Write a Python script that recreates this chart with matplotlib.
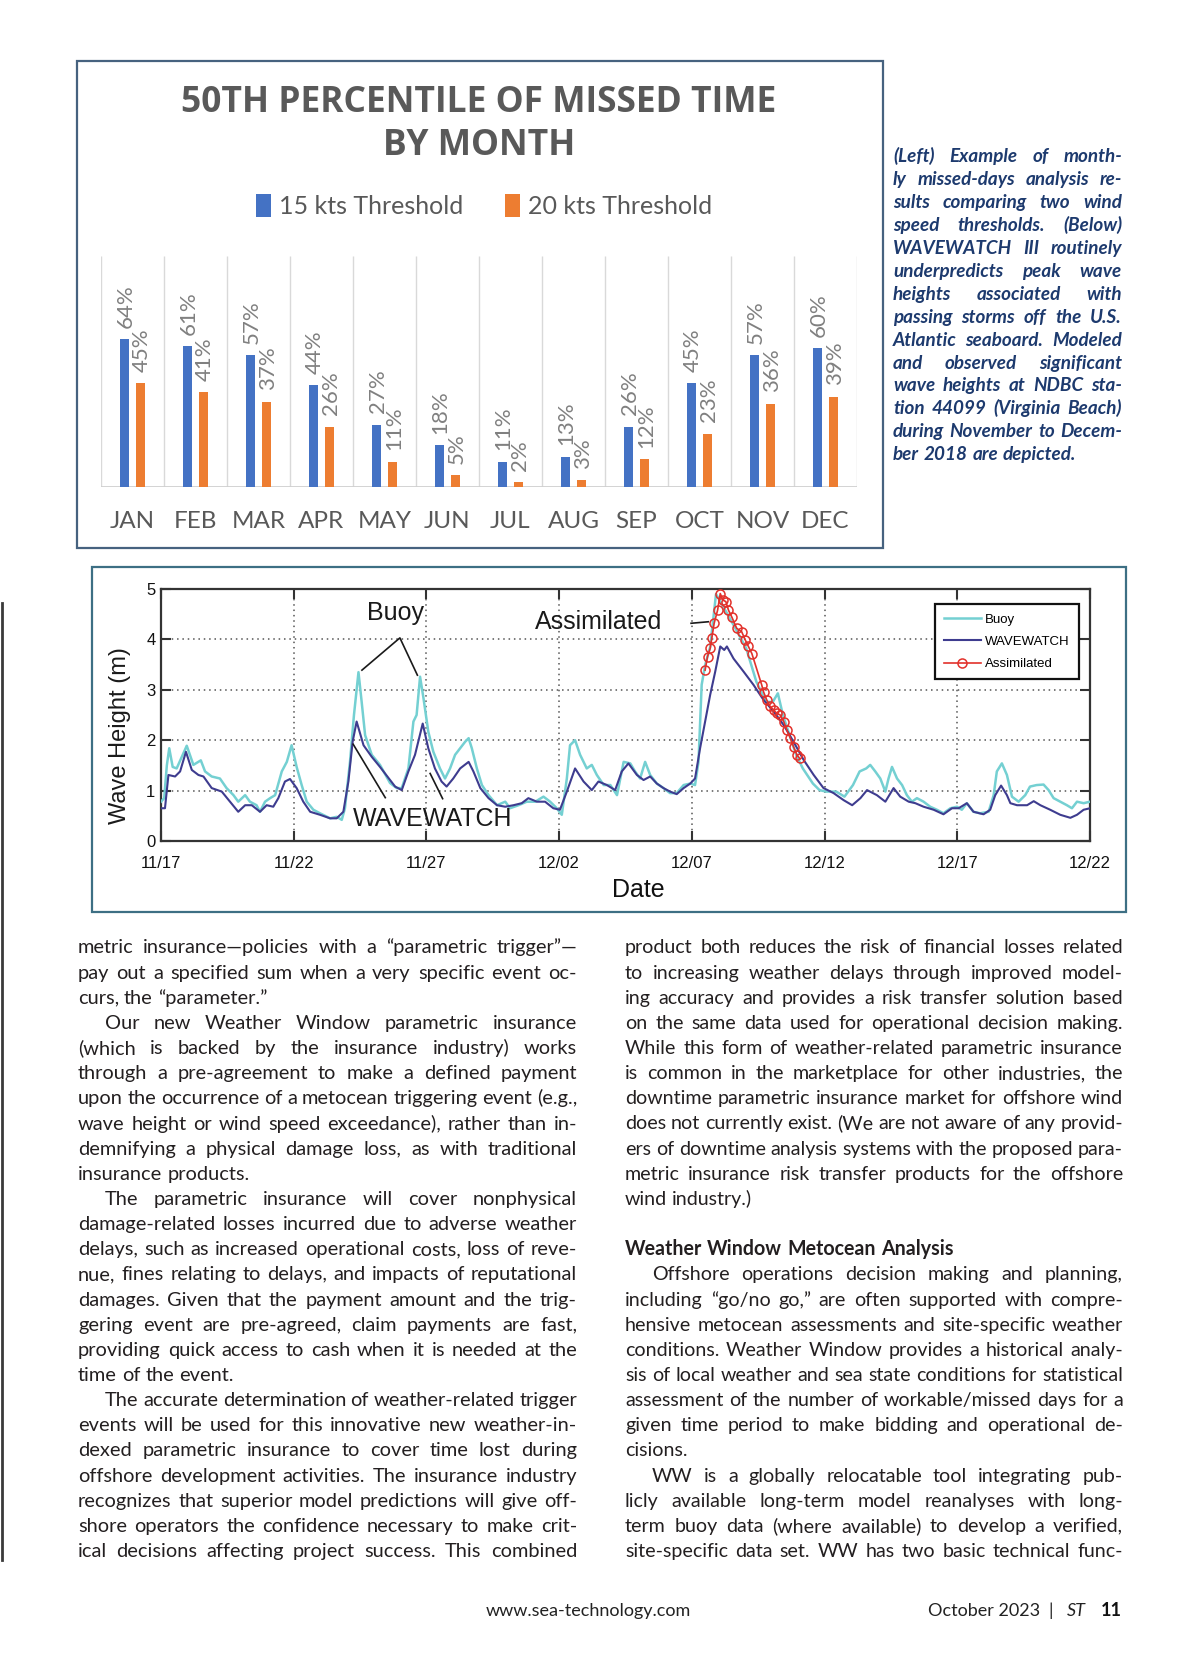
import numpy as np
import matplotlib
matplotlib.use("Agg")
import matplotlib.pyplot as plt
from matplotlib.patches import Rectangle
from matplotlib.lines import Line2D

W, H = 1200, 1672

# --- bar chart: 50th percentile of missed time ---
months = ["JAN", "FEB", "MAR", "APR", "MAY", "JUN", "JUL", "AUG", "SEP", "OCT", "NOV", "DEC"]
kts15 = [64, 61, 57, 44, 27, 18, 11, 13, 26, 45, 57, 60]
kts20 = [45, 41, 37, 26, 11, 5, 2, 3, 12, 23, 36, 39]

# --- wave height chart (days after 11/17) ---
date_ticks = ["11/17", "11/22", "11/27", "12/02", "12/07", "12/12", "12/17", "12/22"]
buoy_day = [0.0, 0.12, 0.22, 0.31, 0.44, 0.59, 0.97, 1.22, 1.5, 1.66, 1.91, 2.22, 2.47, 2.73, 2.91,
            3.17, 3.35, 3.6, 3.73, 3.92, 4.11, 4.3, 4.55, 4.74, 4.92, 5.11, 5.3, 5.49, 5.74, 5.99,
            6.37, 6.62, 6.81, 6.93, 7.12, 7.27, 7.44, 7.56, 7.69, 7.94, 8.25, 8.63, 8.88, 9.07,
            9.32, 9.51, 9.63, 9.76, 9.89, 10.07, 10.26, 10.51, 10.7, 10.89, 11.08, 11.27, 11.46,
            11.59, 11.71, 11.9, 12.09, 12.34, 12.66, 12.97, 13.15, 13.47, 13.78, 14.1, 14.41,
            14.66, 14.91, 15.1, 15.29, 15.41, 15.6, 15.79, 16.04, 16.23, 16.42, 16.68, 16.93,
            17.18, 17.43, 17.68, 17.86, 18.05, 18.24, 18.43, 18.68, 18.93, 19.18, 19.43, 19.69,
            19.94, 20.12, 20.25, 20.37, 20.5, 20.69, 20.91, 21.29, 21.67, 22.05, 22.43, 22.8,
            23.05, 23.24, 23.43, 23.68, 23.93, 24.18, 24.56, 24.81, 25.06, 25.44, 25.75, 26.07,
            26.32, 26.57, 26.72, 26.91, 27.1, 27.29, 27.41, 27.54, 27.73, 27.92, 28.1, 28.29,
            28.48, 28.73, 28.98, 29.23, 29.48, 29.74, 29.99, 30.17, 30.36, 30.61, 30.86, 31.18,
            31.37, 31.49, 31.68, 31.87, 32.06, 32.31, 32.56, 32.74, 32.99, 33.25, 33.44, 33.63,
            33.88, 34.13, 34.32, 34.51, 34.76, 35.0]
buoy_hs = [0.78, 0.85, 1.5, 1.84, 1.47, 1.44, 1.89, 1.51, 1.6, 1.38, 1.28, 1.24, 1.05, 0.91, 0.78,
           0.91, 0.78, 0.71, 0.58, 0.78, 0.85, 0.91, 1.38, 1.57, 1.9, 1.47, 1.11, 0.78, 0.62, 0.55,
           0.45, 0.48, 0.42, 0.65, 1.57, 2.5, 3.35, 2.76, 2.1, 1.71, 1.51, 1.15, 1.05, 1.05,
           1.44, 2.37, 2.5, 3.26, 2.83, 2.17, 1.77, 1.44, 1.24, 1.44, 1.71, 1.84, 1.97,
           2.04, 1.84, 1.44, 1.11, 0.91, 0.71, 0.78, 0.65, 0.71, 0.78, 0.78, 0.88,
           0.78, 0.65, 0.52, 1.24, 1.9, 2.0, 1.71, 1.44, 1.51, 1.31, 1.11, 1.11,
           0.91, 1.57, 1.54, 1.38, 1.24, 1.57, 1.31, 1.14, 1.05, 0.95, 0.95, 1.11,
           1.14, 1.11, 1.57, 3.1, 3.49, 3.85, 4.9, 4.55, 4.19, 3.82, 3.16, 2.76,
           2.76, 2.93, 2.5, 2.1, 1.71, 1.44, 1.14, 1.01, 0.98, 0.98, 0.88, 1.11,
           1.38, 1.44, 1.51, 1.38, 1.24, 0.98, 1.24, 1.47, 1.24, 1.11, 0.91, 0.78,
           0.85, 0.78, 0.68, 0.62, 0.55, 0.65, 0.68, 0.62, 0.75, 0.58, 0.55, 0.58,
           0.91, 1.38, 1.54, 1.31, 0.88, 0.78, 0.91, 1.08, 1.11, 1.12, 1.01, 0.85,
           0.78, 0.71, 0.65, 0.78, 0.75, 0.78]
ww_day = [0.0, 0.15, 0.28, 0.53, 0.72, 0.94, 1.16, 1.41, 1.6, 1.91, 2.29, 2.6, 2.91, 3.17, 3.42,
          3.73, 3.98, 4.23, 4.42, 4.67, 4.86, 5.11, 5.36, 5.62, 5.99, 6.37, 6.62, 6.87, 7.06,
          7.22, 7.37, 7.63, 7.94, 8.25, 8.63, 8.82, 9.07, 9.32, 9.57, 9.86, 10.07, 10.32, 10.57,
          10.76, 11.01, 11.27, 11.59, 11.77, 12.03, 12.34, 12.66, 12.97, 13.28, 13.59, 13.84,
          14.16, 14.47, 14.78, 15.03, 15.29, 15.6, 15.92, 16.23, 16.48, 16.8, 17.11, 17.36,
          17.61, 17.93, 18.18, 18.43, 18.68, 18.93, 19.18, 19.43, 19.69, 19.94, 20.12, 20.31,
          20.5, 20.69, 20.88, 21.07, 21.22, 21.32, 21.57, 21.95, 22.32, 22.7, 23.08, 23.46,
          23.83, 24.21, 24.59, 24.96, 25.34, 25.72, 26.04, 26.35, 26.6, 26.97, 27.29, 27.6,
          27.85, 28.17, 28.42, 28.73, 29.11, 29.48, 29.8, 30.05, 30.36, 30.61, 30.99, 31.24,
          31.43, 31.65, 31.87, 32.0, 32.25, 32.63, 32.88, 33.13, 33.5, 33.88, 34.26, 34.51,
          34.76, 35.0]
ww_hs = [0.65, 0.65, 1.31, 1.28, 1.38, 1.77, 1.41, 1.31, 1.28, 1.05, 0.98, 0.78, 0.58, 0.71, 0.71,
         0.58, 0.71, 0.68, 0.85, 1.18, 1.23, 1.05, 0.78, 0.58, 0.52, 0.45, 0.45, 0.58, 1.18,
         1.97, 2.37, 1.9, 1.67, 1.47, 1.21, 1.08, 1.01, 1.38, 1.71, 2.33, 1.84, 1.44, 1.18,
         1.08, 1.24, 1.44, 1.57, 1.38, 1.05, 0.85, 0.71, 0.68, 0.71, 0.75, 0.85,
         0.78, 0.78, 0.65, 0.62, 0.98, 1.44, 1.18, 1.01, 1.18, 1.11, 1.01, 1.38,
         1.54, 1.31, 1.21, 1.28, 1.14, 1.05, 0.98, 0.93, 1.05, 1.14, 1.24, 1.84,
         2.37, 2.9, 3.36, 3.86, 3.79, 3.86, 3.62, 3.36, 3.1, 2.8, 2.57, 2.3,
         1.97, 1.61, 1.31, 1.05, 0.95, 0.81, 0.71, 0.85, 1.01, 0.91, 0.78, 1.05,
         0.88, 0.78, 0.75, 0.68, 0.62, 0.53, 0.65, 0.65, 0.75, 0.58, 0.53, 0.62,
         0.91, 1.1, 0.91, 0.75, 0.71, 0.71, 0.79, 0.71, 0.62, 0.52, 0.46, 0.52,
         0.62, 0.65]
assim_day = [20.5, 20.59, 20.69, 20.75, 20.84, 20.97, 21.07, 21.17, 21.28, 21.38, 21.5, 21.69,
             21.88, 22.01, 22.13, 22.26, 22.63, 22.7, 22.82, 22.95, 23.08, 23.2, 23.33, 23.46,
             23.58, 23.71, 23.83, 23.96, 24.06]
assim_hs = [3.39, 3.66, 3.82, 4.02, 4.32, 4.58, 4.91, 4.78, 4.75, 4.58, 4.45, 4.22,
            4.15, 3.99, 3.86, 3.72, 3.1, 2.96, 2.8, 2.67, 2.6, 2.53, 2.5, 2.37,
            2.2, 2.04, 1.87, 1.71, 1.64]

# callout labels on the wave chart
buoy_lead = ([7.57, 9.0, 9.66], [3.39, 4.03, 3.29])
ww_lead1 = ([7.24, 8.45], [1.92, 0.86])
ww_lead2 = ([10.14, 10.61], [1.34, 0.84])
assim_lead = ([19.97, 20.62], [4.32, 4.35])

caption = [
    "(Left) Example of month-",
    "ly missed-days analysis re-",
    "sults comparing two wind",
    "speed thresholds. (Below)",
    "WAVEWATCH III routinely",
    "underpredicts peak wave",
    "heights associated with",
    "passing storms off the U.S.",
    "Atlantic seaboard. Modeled",
    "and observed significant",
    "wave heights at NDBC sta-",
    "tion 44099 (Virginia Beach)",
    "during November to Decem-",
    "ber 2018 are depicted.|",
]

# ">" = indented first line, "|" = last line of paragraph, "*" = bold heading
left_col = [
    "metric insurance—policies with a “parametric trigger”—",
    "pay out a specified sum when a very specific event oc-",
    "curs, the “parameter.”|",
    ">Our new Weather Window parametric insurance",
    "(which is backed by the insurance industry) works",
    "through a pre-agreement to make a defined payment",
    "upon the occurrence of a metocean triggering event (e.g.,",
    "wave height or wind speed exceedance), rather than in-",
    "demnifying a physical damage loss, as with traditional",
    "insurance products.|",
    ">The parametric insurance will cover nonphysical",
    "damage-related losses incurred due to adverse weather",
    "delays, such as increased operational costs, loss of reve-",
    "nue, fines relating to delays, and impacts of reputational",
    "damages. Given that the payment amount and the trig-",
    "gering event are pre-agreed, claim payments are fast,",
    "providing quick access to cash when it is needed at the",
    "time of the event.|",
    ">The accurate determination of weather-related trigger",
    "events will be used for this innovative new weather-in-",
    "dexed parametric insurance to cover time lost during",
    "offshore development activities. The insurance industry",
    "recognizes that superior model predictions will give off-",
    "shore operators the confidence necessary to make crit-",
    "ical decisions affecting project success. This combined",
]
right_col = [
    "product both reduces the risk of financial losses related",
    "to increasing weather delays through improved model-",
    "ing accuracy and provides a risk transfer solution based",
    "on the same data used for operational decision making.",
    "While this form of weather-related parametric insurance",
    "is common in the marketplace for other industries, the",
    "downtime parametric insurance market for offshore wind",
    "does not currently exist. (We are not aware of any provid-",
    "ers of downtime analysis systems with the proposed para-",
    "metric insurance risk transfer products for the offshore",
    "wind industry.)|",
    "",
    "*Weather Window Metocean Analysis|",
    ">Offshore operations decision making and planning,",
    "including “go/no go,” are often supported with compre-",
    "hensive metocean assessments and site-specific weather",
    "conditions. Weather Window provides a historical analy-",
    "sis of local weather and sea state conditions for statistical",
    "assessment of the number of workable/missed days for a",
    "given time period to make bidding and operational de-",
    "cisions.|",
    ">WW is a globally relocatable tool integrating pub-",
    "licly available long-term model reanalyses with long-",
    "term buoy data (where available) to develop a verified,",
    "site-specific data set. WW has two basic technical func-",
]

fig = plt.figure(figsize=(12, 16.72), dpi=100)
fig.patch.set_facecolor("white")
renderer = fig.canvas.get_renderer()


def fx(x):
    return x / W


def fy(y):
    return 1 - y / H


def box(x0, y0, x1, y1, color, lw):
    fig.add_artist(Rectangle((fx(x0), fy(y1)), (x1 - x0) / W, (y1 - y0) / H,
                             transform=fig.transFigure, fill=False, ec=color, lw=lw))


def parse(raw):
    bold = raw.startswith("*")
    ind = raw.startswith(">")
    last = raw.endswith("|")
    return bold, ind, last, raw.strip("*>|").split()


def word_width(word, size, **kw):
    t = fig.text(0, 0, word, fontsize=size, **kw)
    w = t.get_window_extent(renderer).width
    t.remove()
    return w


def set_lines(lines, x0, x1, y_first, step, size, indent=27, min_gap=0.24, **kw):
    # shrink the size a little if a justified line would not fit
    scale = 1.0
    for raw in lines:
        if not raw:
            continue
        bold, ind, last, words = parse(raw)
        if last or len(words) < 2:
            continue
        opts = dict(kw, weight="bold") if bold else kw
        need = sum(word_width(w, size, **opts) for w in words)
        need += (len(words) - 1) * min_gap * size * 100 / 72
        scale = min(scale, (x1 - x0 - (indent if ind else 0)) / need)
    size = size * scale
    space = size * 100 / 72 * 0.25
    for k, raw in enumerate(lines):
        if not raw:
            continue
        bold, ind, last, words = parse(raw)
        left = x0 + (indent if ind else 0)
        yb = fy(y_first + k * step + size * 0.36)
        opts = dict(kw, weight="bold") if bold else dict(kw)
        arts = [fig.text(0, yb, w, fontsize=size, va="baseline", **opts) for w in words]
        widths = [a.get_window_extent(renderer).width for a in arts]
        if last or len(words) == 1:
            gap = space
        else:
            gap = (x1 - left - sum(widths)) / (len(words) - 1)
        xx = left
        for a, w in zip(arts, widths):
            a.set_x(fx(xx))
            xx += w + gap


# ---------------- bar chart ----------------
box(77, 61, 883, 548, "#46627f", 1.6)
grey = "#595959"
fig.text(fx(479), fy(103), "50TH PERCENTILE OF MISSED TIME", ha="center", va="center",
         fontsize=25.5, weight="bold", family="Open Sans", color=grey)
fig.text(fx(479), fy(146), "BY MONTH", ha="center", va="center",
         fontsize=25.5, weight="bold", family="Open Sans", color=grey)

ax1 = fig.add_axes([fx(101), fy(487), 756 / W, 231 / H])
x = np.arange(len(months))
ax1.bar(x - 0.13, kts15, 0.14, color="#4472C4", label="15 kts Threshold", zorder=3)
ax1.bar(x + 0.13, kts20, 0.14, color="#ED7D31", label="20 kts Threshold", zorder=3)
ax1.vlines(np.arange(13) - 0.5, 0, 100, color="#d9d9d9", lw=1, zorder=1)
ax1.axhline(0, color="#d0d0d0", lw=1.3, zorder=2)
ax1.set_xlim(-0.5, 11.5)
ax1.set_ylim(0, 100)
for s in ax1.spines.values():
    s.set_visible(False)
ax1.set_yticks([])
ax1.set_xticks(x)
ax1.set_xticklabels(months, fontsize=17.5, color=grey, family="Lato")
ax1.tick_params(axis="x", length=0, pad=17)
for i in range(len(months)):
    ax1.text(i - 0.11, kts15[i] + 5, f"{kts15[i]}%", rotation=90, ha="center", va="bottom",
             fontsize=16, color="#808080", family="Lato")
    ax1.text(i + 0.15, kts20[i] + 5, f"{kts20[i]}%", rotation=90, ha="center", va="bottom",
             fontsize=16, color="#808080", family="Lato")
ax1.legend(loc="center", bbox_to_anchor=(fx(484), fy(206)), bbox_transform=fig.transFigure,
           ncol=2, frameon=False, handlelength=0.6, handleheight=1.0, handletextpad=0.3,
           columnspacing=1.7, labelcolor=grey, prop={"family": "Lato", "size": 18})

# ---------------- caption ----------------
set_lines(caption, 893, 1122, 157, 22.96, 13.6, indent=0, min_gap=0.22, color="#1d3a6e",
          family="Lato", style="italic", weight="bold")

# ---------------- wave height chart ----------------
box(92, 567, 1126, 912, "#3d6f84", 1.6)
ax2 = fig.add_axes([fx(161), fy(841), 929 / W, 252 / H])
ax2.plot(buoy_day, buoy_hs, color="#74d0d2", lw=1.8, label="Buoy", zorder=3)
ax2.plot(ww_day, ww_hs, color="#3e3c8f", lw=1.5, label="WAVEWATCH", zorder=4)
ax2.plot(assim_day, assim_hs, color="#e2312b", lw=1.2, marker="o", ms=6.5, mfc="none",
         mec="#e2312b", mew=1.1, label="Assimilated", zorder=5, clip_on=False)
ax2.set_xlim(0, 35)
ax2.set_ylim(0, 5)
ax2.set_xticks(np.arange(0, 36, 5))
ax2.set_xticklabels(date_ticks)
ax2.set_yticks(np.arange(6))
ax2.grid(True, linestyle=(0, (1, 2.5)), color="#555555", lw=1.1)
for s in ax2.spines.values():
    s.set_color("#333333")
    s.set_linewidth(1.6)
ax2.tick_params(direction="in", length=7, width=1.5, top=True, right=True, color="#333333",
                labelsize=12, labelcolor="#111111")
ax2.tick_params(axis="x", pad=11)
ax2.tick_params(axis="y", pad=4)
for lab in ax2.get_xticklabels() + ax2.get_yticklabels():
    lab.set_family("Liberation Sans")

ink = "#1a1a1a"
ax2.plot(*buoy_lead, color=ink, lw=1.2, zorder=6)
ax2.plot(*ww_lead1, color=ink, lw=1.2, zorder=6)
ax2.plot(*ww_lead2, color=ink, lw=1.2, zorder=6)
ax2.plot(*assim_lead, color=ink, lw=1.2, zorder=6)
ax2.text(8.85, 4.52, "Buoy", ha="center", va="center", fontsize=18, color=ink,
         family="Liberation Sans")
ax2.text(10.25, 0.44, "WAVEWATCH", ha="center", va="center", fontsize=18, color=ink,
         family="Liberation Sans", zorder=7)
ax2.text(16.47, 4.35, "Assimilated", ha="center", va="center", fontsize=18, color=ink,
         family="Liberation Sans")
leg = ax2.legend(loc="upper right", bbox_to_anchor=(0.995, 0.965), fancybox=False,
                 edgecolor="#111111", framealpha=1, handlelength=2.8, labelspacing=0.75,
                 borderpad=0.7, handletextpad=0.3, prop={"family": "Liberation Sans", "size": 9.5})
leg.get_frame().set_linewidth(1.6)

fig.text(fx(120), fy(736), "Wave Height (m)", rotation=90, ha="center", va="center",
         fontsize=17, color="#1a1a1a", family="Liberation Sans")
fig.text(fx(638), fy(890), "Date", ha="center", va="center", fontsize=18, color="#111111",
         family="Liberation Sans")

# ---------------- body text ----------------
body = dict(color="#231f20", family="Lato")
set_lines(left_col, 78, 577, 948.3, 25.15, 14.6, **body)
set_lines(right_col, 625, 1123, 948.3, 25.15, 14.6, **body)

# left rule and footer
fig.add_artist(Line2D([fx(2), fx(2)], [fy(603), fy(1560)], transform=fig.transFigure,
                      color="#3a3a3a", lw=2))
fig.text(fx(588), fy(1611), "www.sea-technology.com", ha="center", va="center",
         fontsize=13, color="#222222", family="Lato")
fig.text(fx(928), fy(1611), "October 2023", ha="left", va="center", fontsize=13,
         color="#222222", family="Lato")
fig.text(fx(1051), fy(1611), "|", ha="center", va="center", fontsize=13, color="#222222",
         family="Lato")
fig.text(fx(1067), fy(1611), "ST", ha="left", va="center", fontsize=13, color="#222222",
         family="Lato", style="italic")
fig.text(fx(1122), fy(1611), "11", ha="right", va="center", fontsize=13, color="#111111",
         family="Lato", weight="bold")

fig.savefig("out.png", dpi=100)
